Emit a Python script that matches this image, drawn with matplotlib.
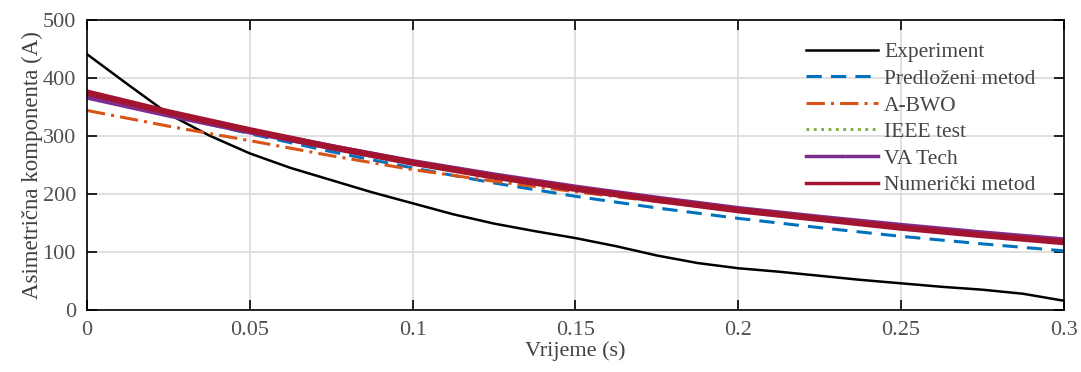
import numpy as np
from matplotlib import pyplot as plt

plt.rcParams['font.family'] = ['Liberation Serif', 'DejaVu Serif']

# measured experiment (dense samples)
t_exp = [0, 0.0125, 0.025, 0.0375, 0.05, 0.0625, 0.075, 0.0875, 0.1, 0.1125, 0.125,
         0.1375, 0.15, 0.1625, 0.175, 0.1875, 0.2, 0.2125, 0.225, 0.2375, 0.25,
         0.2625, 0.275, 0.2875, 0.3]
experiment = [441, 389, 338, 301, 270, 245, 224, 203, 184, 165, 149,
              136, 124, 110, 94, 81, 72, 66, 59, 52, 46,
              40, 35, 28, 16]

# model curves
t = [0, 0.025, 0.05, 0.075, 0.1, 0.125, 0.15, 0.175, 0.2, 0.225, 0.25, 0.275, 0.3]
predlozeni = [370, 337, 304, 273, 245, 219, 196, 176, 158, 142, 127, 114, 102]
a_bwo = [344, 317, 292, 266, 242, 222, 204, 187, 171, 156, 142, 129, 116]
ieee = [373, 340, 309, 280, 253, 229, 208, 189, 171, 156, 142, 129, 116]
va_tech = [368, 337, 308, 281, 255, 232, 211, 192, 174, 159, 145, 132, 120]
numericki = [375, 341, 310, 281, 254, 230, 209, 190, 172, 157, 142, 129, 117]

labels = ['Experiment', 'Predloženi metod', 'A-BWO', 'IEEE test', 'VA Tech', 'Numerički metod']
xticks = [0, 0.05, 0.1, 0.15, 0.2, 0.25, 0.3]
xtick_labels = ['0', '0.05', '0.1', '0.15', '0.2', '0.25', '0.3']
yticks = [0, 100, 200, 300, 400, 500]

fig = plt.figure(figsize=(10.81, 3.72), dpi=100)
ax = fig.add_axes([0.0805, 0.1667, 0.9035, 0.7795])

ax.plot(t_exp, experiment, color='black', lw=1.8, label=labels[0])
ax.plot(t, predlozeni, color='#0072BD', lw=2.2, ls=(0, (5, 3)), label=labels[1])
ax.plot(t, a_bwo, color='#D95319', lw=2.2, ls=(0, (6, 2, 1, 2)), label=labels[2])
ax.plot(t, ieee, color='#77AC30', lw=2, ls=':', label=labels[3])
ax.plot(t, va_tech, color='#7E2F8E', lw=4.5, label=labels[4])
ax.plot(t, numericki, color='#A2142F', lw=4.5, label=labels[5])

ax.set_xlim(0, 0.3)
ax.set_ylim(0, 500)
ax.set_xticks(xticks)
ax.set_xticklabels(xtick_labels)
ax.set_yticks(yticks)
ax.grid(True, color='#dddddd', lw=1.3)
ax.set_axisbelow(True)
ax.tick_params(direction='in', top=True, right=True, length=7, width=1.2,
               labelsize=16, labelcolor='#505050', pad=8)
for s in ax.spines.values():
    s.set_linewidth(1.2)

ax.set_xlabel('Vrijeme (s)', fontsize=16, color='#404040', labelpad=1)
ax.set_ylabel('Asimetrična komponenta (A)', fontsize=16.5, color='#404040', labelpad=0)

leg = ax.legend(loc='upper right', bbox_to_anchor=(0.982, 0.96), frameon=False, fontsize=15.5,
                handlelength=3.3, handletextpad=0.3, labelspacing=0.3, borderpad=0,
                labelcolor='#454545')
for h in leg.get_lines()[4:]:
    h.set_linewidth(2.5)
    h.set_marker('.')
    h.set_markersize(3)

plt.savefig('out.png', dpi=100)
